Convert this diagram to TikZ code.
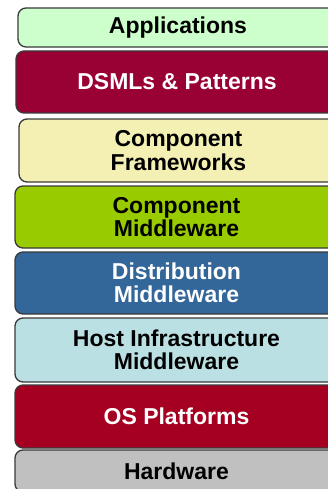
\documentclass[tikz,border=0pt]{standalone}
\usepackage{fontspec}
\setmainfont{Liberation Sans}
\definecolor{appfill}{HTML}{CCFFCC}
\definecolor{dsmlfill}{HTML}{990033}
\definecolor{cffill}{HTML}{F4F0B4}
\definecolor{cmfill}{HTML}{99CC00}
\definecolor{distfill}{HTML}{336699}
\definecolor{hostfill}{HTML}{BBE0E3}
\definecolor{osfill}{HTML}{A50021}
\definecolor{hwfill}{HTML}{C0C0C0}
\definecolor{edge}{HTML}{3A3A3A}
\tikzset{
  layer/.style={draw=edge, line width=1.3pt, rounded corners=8pt,
    align=center, inner sep=0pt,
    font=\fontsize{23}{23.5}\selectfont\bfseries},
  darktext/.style={text=black},
  lighttext/.style={text=white},
}
\begin{document}
\begin{tikzpicture}[x=1pt,y=-1pt]
  \useasboundingbox (0,0) rectangle (328,489);
  \fill[white] (0,0) rectangle (328,489);
  \clip (0,0) rectangle (328,489);
  % software stack, top to bottom; the layers run off the right edge
  \node[layer, darktext, fill=appfill, minimum width=320pt, minimum height=39pt]
    (app) at (178,27.5) {Applications};
  \node[layer, lighttext, fill=dsmlfill, minimum width=322pt, minimum height=62pt]
    (dsml) at (177,82) {DSMLs \& Patterns};
  \node[layer, darktext, fill=cffill, minimum width=319pt, minimum height=63pt]
    (cf) at (178.5,150.5) {Component\\Frameworks};
  \node[layer, darktext, fill=cmfill, minimum width=323pt, minimum height=62pt]
    (cm) at (176.5,217) {Component\\Middleware};
  \node[layer, lighttext, fill=distfill, minimum width=323pt, minimum height=62pt]
    (dist) at (176.5,283) {Distribution\\Middleware};
  \node[layer, darktext, fill=hostfill, minimum width=323pt, minimum height=64pt]
    (host) at (176.5,350) {Host Infrastructure\\Middleware};
  \node[layer, lighttext, fill=osfill, minimum width=323pt, minimum height=63pt]
    (os) at (176.5,416.5) {OS Platforms};
  \node[layer, darktext, fill=hwfill, minimum width=323pt, minimum height=42pt]
    (hw) at (176.5,471) {Hardware};
\end{tikzpicture}
\end{document}
